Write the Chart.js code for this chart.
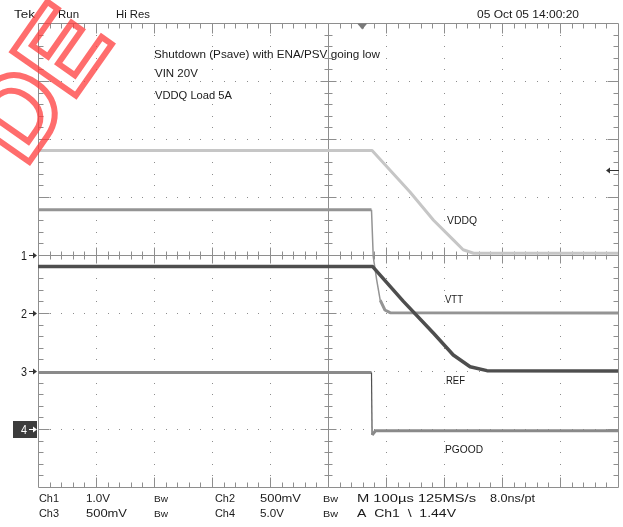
<!DOCTYPE html>
<html>
<head>
<meta charset="utf-8">
<script src="https://cdn.jsdelivr.net/npm/chart.js@4.4.1/dist/chart.umd.min.js"></script>
<style>
  html, body { margin: 0; padding: 0; background: #fff; }
  #wrap { width: 623px; height: 527px; }
</style>
</head>
<body>
<div id="wrap"><canvas id="scopeChart" width="623" height="527"></canvas></div>
<script>
// Time in microseconds, 0 = screen centre, 100 us/div
const usPerDiv = 100;

// Ch1 VDDQ, 1.0 V/div, ground at centre
const vddqTime = [-500, 76, 141, 182, 216, 233, 251, 500];
const vddqVolts = [1.80, 1.80, 1.09, 0.60, 0.26, 0.09, 0.03, 0.03];

// Ch2 VTT, 500 mV/div, ground 1 div below centre
const vttTime = [-500, 75, 78, 84, 90, 98, 107, 500];
const vttVolts = [0.89, 0.89, 0.485, 0.284, 0.112, 0.026, 0.003, 0.0];

// Ch3 REF, 500 mV/div, ground 2 div below centre
const refTime = [-500, 77, 130, 182, 216, 245, 274, 500];
const refVolts = [0.90, 0.90, 0.60, 0.325, 0.138, 0.037, 0.003, 0.0];

// Ch4 PGOOD, 5.0 V/div, ground 3 div below centre
const pgoodTime = [-500, 75, 76, 82, 500];
const pgoodVolts = [4.87, 4.87, -0.52, -0.15, -0.15];

const traceLabels = ["VDDQ", "VTT", "REF", "PGOOD"];

const headerTexts = ["Tek", "Run", "Hi Res", "05 Oct 05 14:00:20"];
const noteLines = ["Shutdown (Psave) with ENA/PSV going low", "VIN 20V", "VDDQ Load 5A"];
const footerRow1 = ["Ch1", "1.0V", "Bw", "Ch2", "500mV", "Bw", "M 100\u00b5s 125MS/s", "8.0ns/pt"];
const footerRow2 = ["Ch3", "500mV", "Bw", "Ch4", "5.0V", "Bw", "A  Ch1  \\  1.44V"];

function pts(xs, ys) {
    return xs.map((x, i) => ({ x: x, y: ys[i] }));
}

// steep edges are drawn thin, like on the scope
function edgeWidth(normal, thin) {
    return function (ctx) {
        const dx = Math.abs(ctx.p1.x - ctx.p0.x);
        const dy = Math.abs(ctx.p1.y - ctx.p0.y);
        return dy > 4 * dx ? thin : normal;
    };
}

const FONT = '"Liberation Sans", Arial, sans-serif';

// draw text stretched to fit between x0 and x1
function fitText(ctx, text, x0, x1, baseline, size) {
    ctx.save();
    ctx.font = size + "px " + FONT;
    const w = ctx.measureText(text).width;
    ctx.translate(x0, baseline);
    ctx.scale((x1 - x0) / w, 1);
    ctx.fillText(text, 0, 0);
    ctx.restore();
}

function plainText(ctx, text, x, baseline, size) {
    ctx.font = size + "px " + FONT;
    ctx.fillText(text, x, baseline);
}

function arrowRight(ctx, x0, x1, y, color) {
    ctx.strokeStyle = color;
    ctx.fillStyle = color;
    ctx.lineWidth = 1;
    ctx.beginPath();
    ctx.moveTo(x0, y + 0.5);
    ctx.lineTo(x1 - 3, y + 0.5);
    ctx.stroke();
    ctx.beginPath();
    ctx.moveTo(x1, y + 0.5);
    ctx.lineTo(x1 - 4, y - 2.5);
    ctx.lineTo(x1 - 4, y + 3.5);
    ctx.closePath();
    ctx.fill();
}

function arrowLeft(ctx, x0, x1, y, color) {
    ctx.strokeStyle = color;
    ctx.fillStyle = color;
    ctx.lineWidth = 1;
    ctx.beginPath();
    ctx.moveTo(x0 + 3, y + 0.5);
    ctx.lineTo(x1, y + 0.5);
    ctx.stroke();
    ctx.beginPath();
    ctx.moveTo(x0, y + 0.5);
    ctx.lineTo(x0 + 4, y - 2.5);
    ctx.lineTo(x0 + 4, y + 3.5);
    ctx.closePath();
    ctx.fill();
}

const graticule = {
    id: "graticule",
    beforeDatasetsDraw(chart) {
        const ctx = chart.ctx;
        const xs = chart.scales.x;
        const ys = chart.scales.ch1;
        const px = d => Math.round(xs.getPixelForValue(d * usPerDiv)) + 0.5;
        const py = d => Math.round(ys.getPixelForValue(d)) + 0.5;
        ctx.save();

        // dotted division lines
        ctx.fillStyle = "#8c8c8c";
        for (let i = -4; i <= 4; i++) {
            if (i === 0) continue;
            for (let k = -19; k <= 19; k++) ctx.fillRect(px(i) - 0.5, py(k / 5) - 0.5, 1, 1);
        }
        for (let j = -3; j <= 3; j++) {
            if (j === 0) continue;
            for (let k = -24; k <= 24; k++) ctx.fillRect(px(k / 5) - 0.5, py(j) - 0.5, 1, 1);
        }

        ctx.strokeStyle = "#8e8e8e";
        ctx.lineWidth = 1;
        ctx.beginPath();
        // frame
        ctx.rect(px(-5), py(4), px(5) - px(-5), py(-4) - py(4));
        // centre cross
        ctx.moveTo(px(-5), py(0));
        ctx.lineTo(px(5), py(0));
        ctx.moveTo(px(0), py(4));
        ctx.lineTo(px(0), py(-4));

        for (let k = -24; k <= 24; k++) {
            const x = px(k / 5);
            const major = k % 5 === 0;
            const len = major ? 10 : 5;
            ctx.moveTo(x, py(4));
            ctx.lineTo(x, py(4) + len);
            ctx.moveTo(x, py(-4));
            ctx.lineTo(x, py(-4) - len);
            const c = major ? 8 : 4;
            ctx.moveTo(x, py(0) - c);
            ctx.lineTo(x, py(0) + c);
        }
        for (let k = -19; k <= 19; k++) {
            const y = py(k / 5);
            const major = k % 5 === 0;
            const len = major ? 11 : 5;
            ctx.moveTo(px(-5), y);
            ctx.lineTo(px(-5) + len, y);
            ctx.moveTo(px(5), y);
            ctx.lineTo(px(5) - len, y);
            const c = major ? 8 : 4;
            ctx.moveTo(px(0) - c, y);
            ctx.lineTo(px(0) + c, y);
        }
        ctx.stroke();

        // trigger position marker
        const tx = xs.getPixelForValue(59);
        ctx.fillStyle = "#7a7a7a";
        ctx.beginPath();
        ctx.moveTo(tx - 5, py(4));
        ctx.lineTo(tx + 5, py(4));
        ctx.lineTo(tx, py(4) + 6);
        ctx.closePath();
        ctx.fill();
        ctx.restore();
    },
    afterDraw(chart) {
        const ctx = chart.ctx;
        const ys = chart.scales.ch1;
        ctx.save();
        ctx.fillStyle = "#1a1a1a";
        ctx.textBaseline = "alphabetic";

        // header
        fitText(ctx, headerTexts[0], 14, 35, 18, 11);
        fitText(ctx, headerTexts[1], 58, 79, 18, 11);
        fitText(ctx, headerTexts[2], 116, 150, 18, 11);
        fitText(ctx, headerTexts[3], 477, 579, 18, 11);

        // note
        fitText(ctx, noteLines[0], 154, 380, 58, 11);
        plainText(ctx, noteLines[1], 155, 77, 11.5);
        fitText(ctx, noteLines[2], 155, 232, 98.5, 11);

        // trace labels
        fitText(ctx, traceLabels[0], 447, 477, 224, 11);
        fitText(ctx, traceLabels[1], 445, 463, 303, 11);
        fitText(ctx, traceLabels[2], 446, 465, 384, 11);
        fitText(ctx, traceLabels[3], 445, 483, 453, 11);

        // footer
        const colX = [[39, 59], [86, 110], [154, 168], [215, 235], [260, 301], [323, 338], [357, 476], [490, 535]];
        const colX2 = [[39, 59], [86, 127], [154, 168], [215, 235], [260, 284], [323, 338], [357, 456]];
        footerRow1.forEach((t, i) => fitText(ctx, t, colX[i][0], colX[i][1], 502, t === "Bw" ? 9 : 11));
        footerRow2.forEach((t, i) => fitText(ctx, t, colX2[i][0], colX2[i][1], 517, t === "Bw" ? 9 : 11));

        // channel ground markers
        const grounds = [0, -1, -2, -3];
        grounds.forEach((g, i) => {
            const y = Math.round(ys.getPixelForValue(g));
            if (i === 3) {
                ctx.fillStyle = "#3c3c3c";
                ctx.fillRect(13, y - 8, 24, 17);
                ctx.fillStyle = "#ffffff";
                fitText(ctx, String(i + 1), 21, 27, y + 5, 13);
                arrowRight(ctx, 29, 37, y, "#ffffff");
            } else {
                ctx.fillStyle = "#1a1a1a";
                fitText(ctx, String(i + 1), 21, 27, y + 5, 13);
                arrowRight(ctx, 29, 37, y, "#333333");
            }
        });

        // trigger level arrow
        arrowLeft(ctx, 606, 619, 170, "#333333");

        // red watermark
        ctx.translate(25, 168);
        ctx.rotate(-55 * Math.PI / 180);
        ctx.font = "bold 112px " + FONT;
        ctx.lineWidth = 6;
        ctx.strokeStyle = "rgba(255, 60, 60, 0.75)";
        ctx.strokeText("DE", 0, 0);
        ctx.restore();
    }
};

new Chart(document.getElementById("scopeChart"), {
    type: "line",
    data: {
        datasets: [
            {
                label: traceLabels[2],
                data: pts(refTime, refVolts),
                yAxisID: "ch3",
                borderColor: "#4e4e4e",
                borderWidth: 3.5,
                segment: { borderWidth: edgeWidth(3.5, 1.5) },
            },
            {
                label: traceLabels[3],
                data: pts(pgoodTime, pgoodVolts),
                yAxisID: "ch4",
                borderColor: "#8a8a8a",
                borderWidth: 3,
                segment: {
                    borderWidth: edgeWidth(3, 1.2),
                    borderColor: ctx => {
                        const dx = Math.abs(ctx.p1.x - ctx.p0.x);
                        const dy = Math.abs(ctx.p1.y - ctx.p0.y);
                        return dy > 4 * dx ? "#505050" : "#8a8a8a";
                    },
                },
            },
            {
                label: traceLabels[1],
                data: pts(vttTime, vttVolts),
                yAxisID: "ch2",
                borderColor: "#949494",
                borderWidth: 3,
                segment: { borderWidth: edgeWidth(3, 1.5) },
            },
            {
                label: traceLabels[0],
                data: pts(vddqTime, vddqVolts),
                yAxisID: "ch1",
                borderColor: "#c6c6c6",
                borderWidth: 3,
            },
        ],
    },
    options: {
        responsive: false,
        animation: false,
        devicePixelRatio: 1,
        layout: { padding: { left: 38, top: 23, right: 5, bottom: 40 } },
        elements: {
            point: { radius: 0 },
            line: { tension: 0, borderJoinStyle: "round", borderCapStyle: "butt" },
        },
        plugins: {
            legend: { display: false },
            tooltip: { enabled: false },
        },
        scales: {
            x: { type: "linear", min: -500, max: 500, display: false },
            ch1: { type: "linear", min: -4, max: 4, display: false },
            ch2: { type: "linear", min: -1.5, max: 2.5, display: false },
            ch3: { type: "linear", min: -1.0, max: 3.0, display: false },
            ch4: { type: "linear", min: -5, max: 35, display: false },
        },
    },
    plugins: [graticule],
});
</script>
</body>
</html>
